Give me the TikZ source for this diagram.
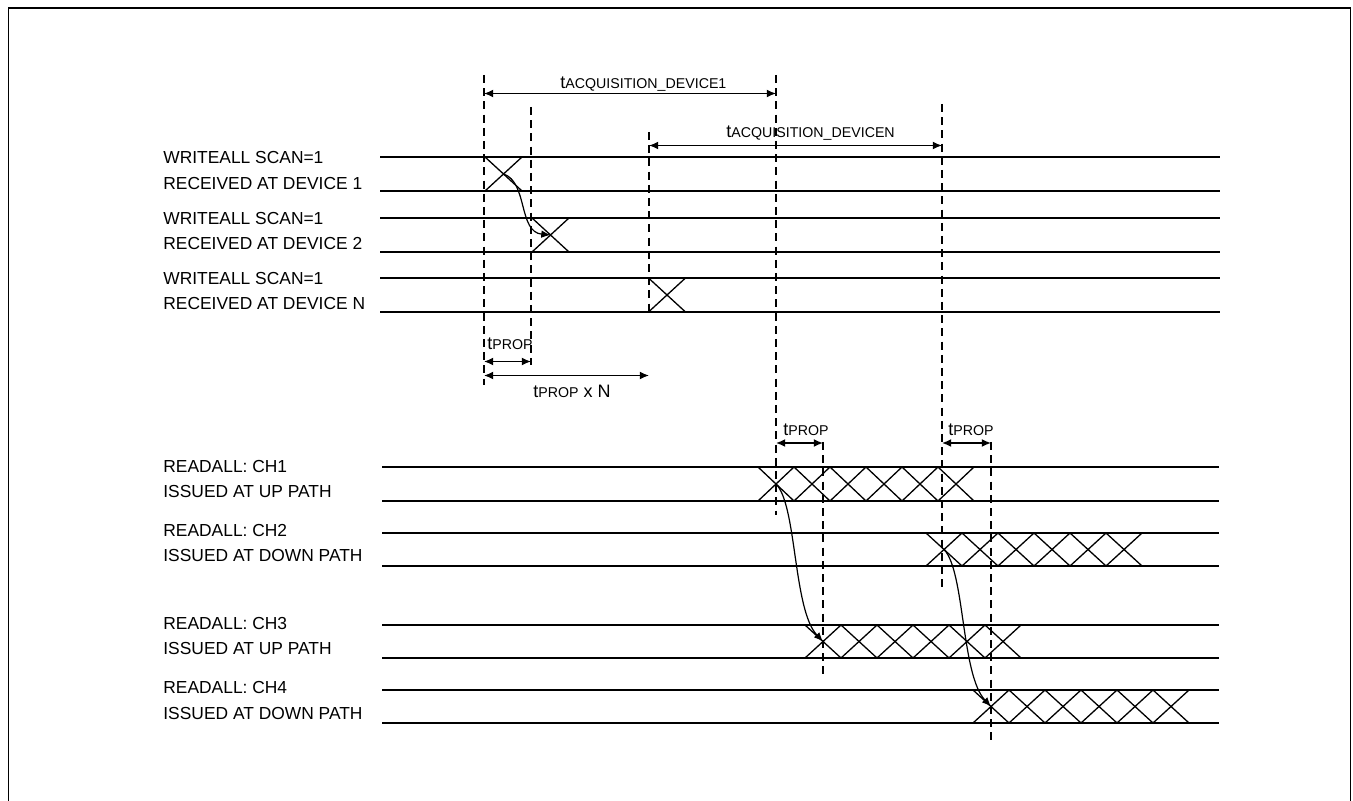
\documentclass[tikz,border=0pt]{standalone}
\usepackage{fontspec}
\setmainfont{Liberation Sans}
\usetikzlibrary{arrows.meta}
\tikzset{
  sig/.style={line width=0.65pt},
  guide/.style={line width=0.6pt, dash pattern=on 4pt off 2.6pt},
  dim/.style={line width=0.7pt, {Latex[length=4.6pt,width=4pt]}-{Latex[length=4.6pt,width=4pt]}},
  hop/.style={line width=0.6pt, -{Latex[length=4.6pt,width=3.8pt]}},
  lbl/.style={anchor=base west, inner sep=0pt, font=\fontsize{8.7}{10}\selectfont},
}
\newcommand{\tsub}[1]{t{\fontsize{7.1}{8}\selectfont #1}}
\begin{document}
\begin{tikzpicture}[x=0.5pt,y=-0.5pt]
\useasboundingbox (0,0) rectangle (1353,801);
% frame, open at the bottom
\draw[line width=0.8pt] (8.5,801) -- (8.5,8) -- (1350.5,8) -- (1350.5,801);
% signal lines
\foreach \y in {157,191,218,252,278,312} { \draw[sig] (380,\y) -- (1220,\y); }
\foreach \y in {467,501,533,566,625,658,690,723} { \draw[sig] (382,\y) -- (1219,\y); }
% single transitions, writeall rows
\foreach \cx/\yt in {503.5/157, 550.5/218, 667/278} { \draw[sig] (\cx-18.5,\yt) -- (\cx+18.5,\yt+34) (\cx+18.5,\yt) -- (\cx-18.5,\yt+34); }
% data bursts, readall rows (first crossing on the guide)
\foreach \cx/\yt/\yb in {776/467/501, 944/533/566, 823/625/658, 991/690/723} {
  \foreach \k in {0,...,5} { \draw[sig] ({\cx+36*\k-18},\yt) -- ({\cx+36*\k+18},\yb) ({\cx+36*\k+18},\yt) -- ({\cx+36*\k-18},\yb); }
}
% dashed guides
\foreach \x/\a/\b in {484/75/385, 531/107/365, 649/132/312, 776/75/515, 823/442/677, 942/104/588, 991/442/742} { \draw[guide] (\x,\a) -- (\x,\b); }
% row labels
\foreach \n/\ya/\yb/\ta/\tb in {w1/164/189.5/WRITEALL SCAN=1/RECEIVED AT DEVICE 1, w2/225/250/WRITEALL SCAN=1/RECEIVED AT DEVICE 2, wn/285/310/WRITEALL SCAN=1/RECEIVED AT DEVICE N, r1/472.3/497.3/READALL: CH1/ISSUED AT UP PATH, r2/536.7/561.7/READALL: CH2/ISSUED AT DOWN PATH, r3/629/654/READALL: CH3/ISSUED AT UP PATH, r4/693.3/719.3/READALL: CH4/ISSUED AT DOWN PATH} {
  \node[lbl] (\n a) at (163,\ya) {\ta};
  \node[lbl] (\n b) at (163,\yb) {\tb};
}
% timing intervals
\coordinate (acq1l) at (484,93.5); \coordinate (acq1r) at (776,93.5);
\coordinate (acqnl) at (649,145.5); \coordinate (acqnr) at (942,145.5);
\coordinate (p1l) at (484,361.5); \coordinate (p1r) at (531,361.5);
\coordinate (pnl) at (484,375.5); \coordinate (pnr) at (649,375.5);
\coordinate (p2l) at (776,443); \coordinate (p2r) at (823,443);
\coordinate (p3l) at (942,443); \coordinate (p3r) at (991,443);
\foreach \a/\b in {acq1l/acq1r, acqnl/acqnr, p1l/p1r, pnl/pnr, p2l/p2r, p3l/p3r} { \draw[dim] (\a) -- (\b); }
\node[lbl,font=\fontsize{9}{10}\selectfont] (tacq1) at (560,89) {\tsub{ACQUISITION\_DEVICE1}};
\node[lbl,font=\fontsize{9}{10}\selectfont] (tacqn) at (726,138) {\tsub{ACQUISITION\_DEVICEN}};
\node[lbl,font=\fontsize{9}{10}\selectfont] (tp1) at (487,350) {\tsub{PROP}};
\node[lbl,font=\fontsize{9}{10}\selectfont] (tpn) at (533,398) {\tsub{PROP} x N};
\node[lbl,font=\fontsize{9}{10}\selectfont] (tp2) at (783,436) {\tsub{PROP}};
\node[lbl,font=\fontsize{9}{10}\selectfont] (tp3) at (948,436) {\tsub{PROP}};
% propagation hops
\coordinate (d1) at (503.5,174); \coordinate (d2) at (550.5,235);
\coordinate (c1) at (776,484); \coordinate (c3) at (823,641.5);
\coordinate (c2) at (944,549.5); \coordinate (c4) at (991,706.5);
\draw[hop] (d1) .. controls (528,182) and (518,232) .. (d2);
\draw[hop] (c1) .. controls (797,505) and (793,610) .. (c3);
\draw[hop] (c2) .. controls (965,571) and (961,675) .. (c4);
\end{tikzpicture}
\end{document}
